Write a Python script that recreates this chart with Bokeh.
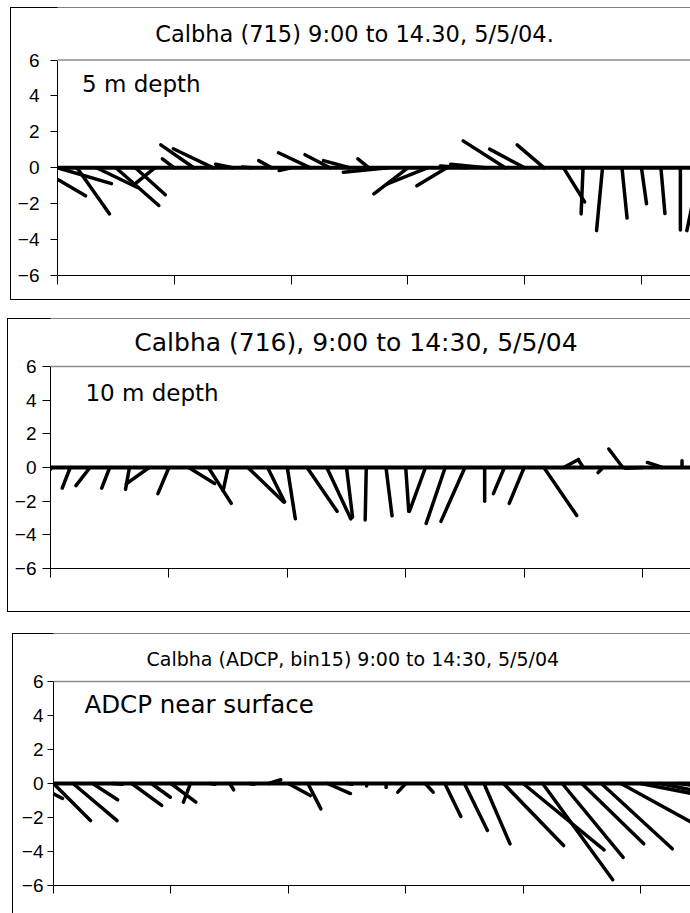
from bokeh.plotting import figure
from bokeh.models import Range1d, FixedTicker, Span, Label
from bokeh.layouts import column
from bokeh.embed import file_html
from bokeh.resources import INLINE

# ---------------- data ----------------
# start times of each current vector (10-minute records)
times_715 = ["8:50", "9:00", "9:10", "9:20", "9:30", "9:40", "9:50", "10:00", "10:10", "10:20",
             "10:30", "10:40", "10:50", "11:00", "11:10", "11:20", "11:30", "11:40", "11:50", "12:00",
             "12:10", "12:20", "12:30", "12:40", "12:50", "13:00", "13:10", "13:20", "13:30", "13:40",
             "13:50", "14:00", "14:10", "14:20", "14:30"]
east_715 = [2.71, 3.08, 1.86, 2.34, 2.45, 1.71, -1.08, -0.68, -1.88, -2.28,
            -0.97, -0.57, -0.74, -0.68, -1.83, -1.43, -1.48, -0.63, -2.57, -1.94,
            -2.28, -1.71, -1.48, -2.00, -2.40, -2.00, -1.54, 1.20, -0.11, -0.34,
            0.29, 0.29, 0.23, 0.00, -0.74]
north_715 = [-1.56, -0.88, -2.57, -1.10, -2.10, -1.50, -0.85, 0.50, 1.28, 1.06,
             0.20, 0.05, 0.40, -0.15, 0.84, 0.73, 0.40, 0.50, -0.25, -1.45,
             -0.90, -1.00, 0.10, 0.20, 1.50, 1.04, 1.28, -1.90, -2.57, -3.50,
             -2.80, -2.00, -2.55, -3.46, -3.50]

times_716 = ["9:00", "9:10", "9:20", "9:30", "9:40", "9:50", "10:00", "10:10", "10:20",
             "10:30", "10:40", "10:50", "11:00", "11:10", "11:20", "11:30", "11:40", "11:50", "12:00",
             "12:10", "12:20", "12:30", "12:40", "12:50", "13:00", "13:10", "13:20", "13:30", "13:40",
             "13:50", "14:00", "14:10", "14:20", "14:30"]
east_716 = [0.00, -0.45, -0.79, -0.45, -0.22, -1.29, -0.62, 1.46, 1.29,
            -0.28, 2.02, 0.96, 0.45, 1.69, 1.35, 0.34, -0.06, 0.34, 0.17,
            -0.90, -1.07, -1.35, 0.00, -0.62, -0.84, 1.85, 0.84, -0.28, -0.28,
            -0.79, -0.96, -0.84, 0.00, 0.20]
north_716 = [-0.10, -1.22, -1.08, -1.22, -1.30, -0.97, -1.55, -0.95, -2.13,
             -1.38, -2.05, -2.05, -3.05, -2.60, -3.05, -2.95, -3.12, -2.87, -2.60,
             -2.60, -3.32, -3.20, -2.00, -1.55, -2.13, -2.85, 0.48, 0.45, -0.30,
             1.10, -0.05, 0.30, 0.40, 0.20]

times_adcp = ["8:50", "9:00", "9:10", "9:20", "9:30", "9:40", "9:50", "10:00", "10:10", "10:20",
              "10:30", "10:40", "10:50", "11:00", "11:10", "11:20", "11:30", "11:40", "11:50", "12:00",
              "12:10", "12:20", "12:30", "12:40", "12:50", "13:00", "13:10", "13:20", "13:30", "13:40",
              "13:50", "14:00", "14:10", "14:20", "14:30"]
east_adcp = [1.62, 2.10, 2.50, 1.42, 0.57, 1.70, 1.08, 1.42, -0.40, 0.28,
             0.23, 0.28, 0.68, 1.25, 0.74, 1.31, 0.28, 0.00, 0.00, -0.45,
             0.45, 0.91, 1.31, 1.48, 3.41, 4.60, 3.98, 3.46, 3.52, 4.03,
             4.54, 3.98, 2.84, 1.70, 1.14]
north_adcp = [-0.88, -2.18, -2.18, -0.96, -0.05, -1.29, -0.81, -1.10, -1.10, -0.05,
              -0.37, -0.05, 0.22, -0.71, -1.49, -0.59, -0.05, -0.15, -0.24, -0.51,
              -0.51, -1.94, -2.76, -3.55, -3.65, -3.90, -5.66, -4.34, -3.55, -3.84,
              -2.58, -0.80, -0.60, -0.25, -0.20]

y_ticks = [-6, -4, -2, 0, 2, 4, 6]
x_ticks = [9, 10, 11, 12, 13, 14]

titles = ["Calbha (715) 9:00 to 14.30, 5/5/04.",
          "Calbha (716), 9:00 to 14:30, 5/5/04",
          "Calbha (ADCP, bin15) 9:00 to 14:30, 5/5/04"]
depth_labels = ["5 m depth", "10 m depth", "ADCP near surface"]

KX = 0.15  # hours of time axis per unit of east velocity


def hours(s):
    h, m = s.split(":")
    return int(h) + int(m) / 60.0


def box_style(left, bottom=True):
    """Chart-area border (left, top and optionally bottom edge) painted as CSS backgrounds."""
    n = 3 if bottom else 2
    imgs = ", ".join(["linear-gradient(#000, #000)"] * n)
    sizes = "1px 100%, 100% 1px" + (", 100% 1px" if bottom else "")
    pos = f"{left}px 0px, {left}px 0px" + (f", {left}px 100%" if bottom else "")
    return {"background-color": "white", "background-image": imgs, "background-size": sizes,
            "background-position": pos, "background-repeat": "no-repeat"}


def panel(times, east, north, title, label, *, width, height, xend, ytop, mb_left, mb_bottom,
          margin, style, title_xy, title_size, label_xy, label_size, tick_out_y, standoff, tick_out_x):
    t = [hours(s) for s in times]
    x1 = [ti + KX * e for ti, e in zip(t, east)]
    zeros = [0.0] * len(t)
    p = figure(width=width, height=height, x_range=Range1d(9, xend), y_range=Range1d(-6, ytop),
               output_backend="svg", toolbar_location=None,
               min_border_left=mb_left, min_border_right=0, min_border_top=0,
               min_border_bottom=mb_bottom)
    p.grid.visible = False
    p.outline_line_color = None
    p.background_fill_color = "white"
    p.border_fill_color = None
    p.margin = margin
    p.styles = style

    p.line(t, zeros, line_color="black", line_width=4)
    p.segment(x0=t, y0=zeros, x1=x1, y1=north, line_color="black", line_width=3.5, line_cap="round")

    p.add_layout(Span(location=6, dimension="width", line_color="#8c8c8c", line_width=1.5))

    ya = p.yaxis[0]
    ya.axis_label = None
    ya.bounds = (-6, 6)
    ya.ticker = FixedTicker(ticks=y_ticks)
    ya.major_tick_out = tick_out_y
    ya.major_tick_in = 0
    ya.minor_tick_out = 0
    ya.minor_tick_in = 0
    ya.axis_line_color = "black"
    ya.major_tick_line_color = "black"
    ya.major_label_text_font = "Liberation Sans"
    ya.major_label_text_font_size = "19px"
    ya.major_label_text_color = "black"
    ya.major_label_standoff = standoff

    xa = p.xaxis[0]
    xa.axis_label = None
    xa.ticker = FixedTicker(ticks=x_ticks)
    xa.major_tick_out = tick_out_x
    xa.major_tick_in = 0
    xa.minor_tick_out = 0
    xa.minor_tick_in = 0
    xa.axis_line_color = "black"
    xa.major_tick_line_color = "black"
    xa.major_label_overrides = {v: "" for v in x_ticks}

    p.add_layout(Label(x=title_xy[0], y=title_xy[1], text=title, text_font="DejaVu Sans",
                       text_font_size=title_size, text_align="center", text_baseline="middle",
                       text_color="black"))
    p.add_layout(Label(x=label_xy[0], y=label_xy[1], text=label, text_font="DejaVu Sans",
                       text_font_size=label_size, text_align="left", text_baseline="middle",
                       text_color="black"))
    return p


p1 = panel(times_715, east_715, north_715, titles[0], depth_labels[0],
           width=683, height=293, xend=14.42, ytop=8.93, mb_left=50, mb_bottom=25,
           margin=(7, 0, 0, 7), style=box_style(3), title_xy=(11.543, 7.48), title_size="22.5px",
           label_xy=(9.21, 4.68), label_size="23px", tick_out_y=7, standoff=11, tick_out_x=9)
p2 = panel(times_716, east_716, north_716, titles[1], depth_labels[1],
           width=690, height=294, xend=14.405, ytop=8.852, mb_left=49, mb_bottom=44,
           margin=(18, 0, 0, 0), style=box_style(7), title_xy=(11.58, 7.40), title_size="25px",
           label_xy=(9.295, 4.44), label_size="23px", tick_out_y=8, standoff=6, tick_out_x=9)
p3 = panel(times_adcp, east_adcp, north_adcp, titles[2], depth_labels[2],
           width=687, height=280, xend=14.426, ytop=8.824, mb_left=50, mb_bottom=28,
           margin=(21, 0, 0, 3), style=box_style(9, bottom=False), title_xy=(11.55, 7.30),
           title_size="19px", label_xy=(9.264, 4.65), label_size="24.5px",
           tick_out_y=6, standoff=4, tick_out_x=8)

layout = column(p1, p2, p3, spacing=0)
layout.styles = {"background-color": "white"}

open("out.html", "w").write(file_html(layout, INLINE))
